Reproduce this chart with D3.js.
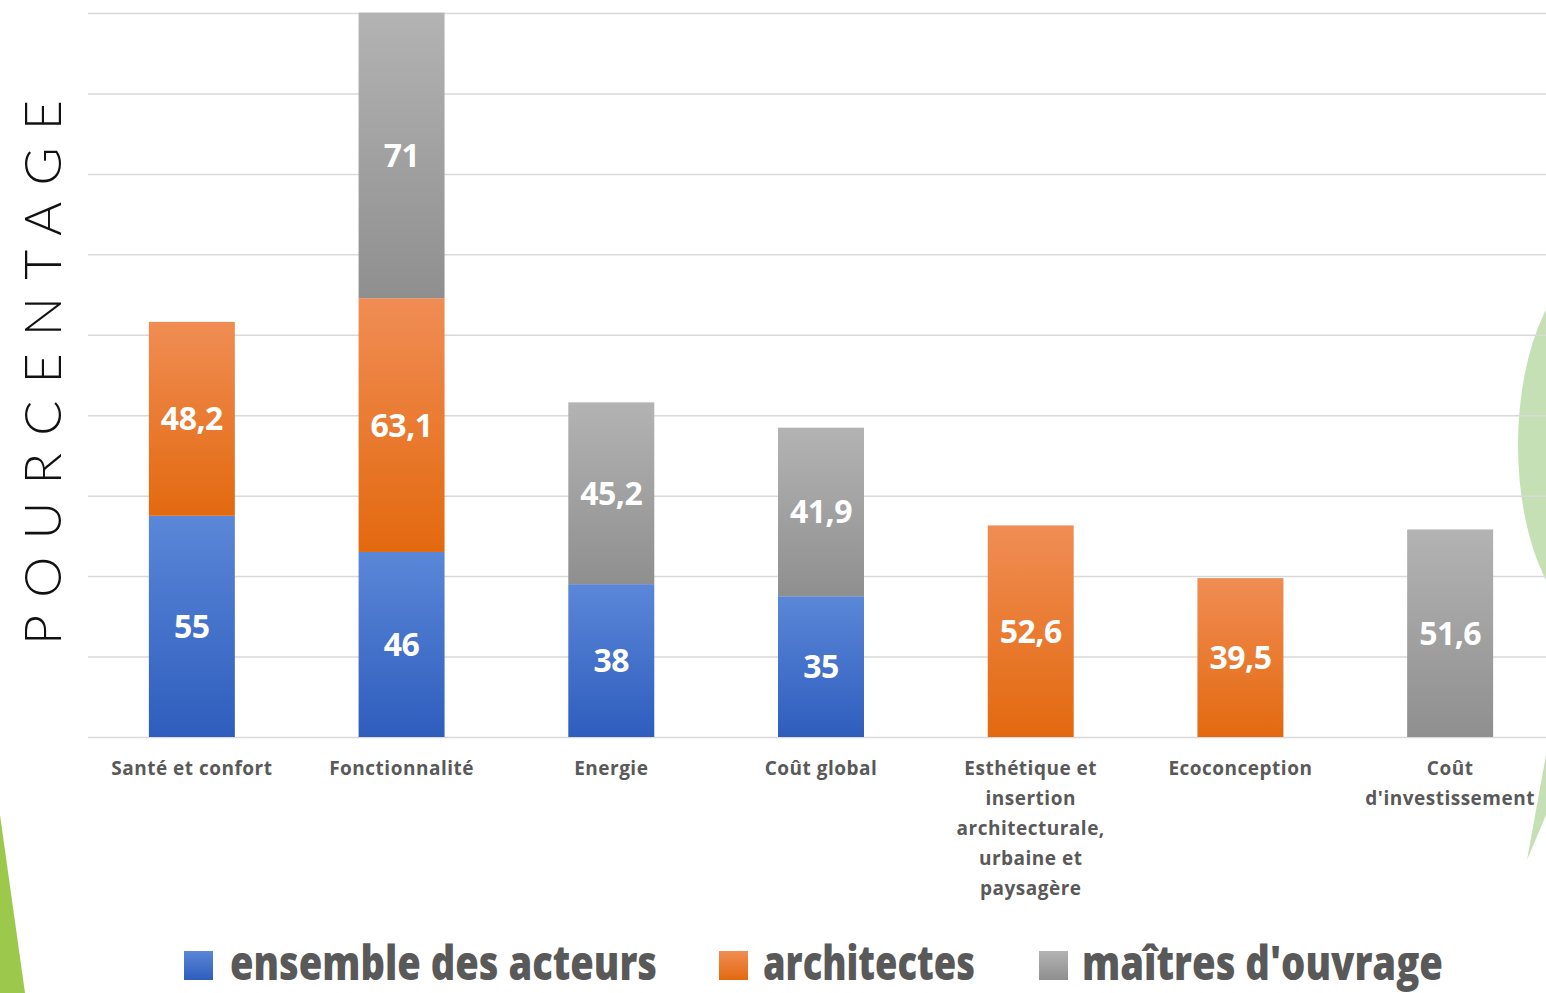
<!DOCTYPE html>
<html><head><meta charset="utf-8">
<script src="https://cdn.jsdelivr.net/npm/d3@7"></script>
<style>html,body{margin:0;padding:0;background:#fff;overflow:hidden}</style>
</head><body>
<svg id="chart" width="1546" height="993"></svg>
<script>
const categories = ["Santé et confort","Fonctionnalité","Energie","Coût global","Esthétique et insertion architecturale, urbaine et paysagère","Ecoconception","Coût d'investissement"];
const categoryLines = [["Santé et confort"],["Fonctionnalité"],["Energie"],["Coût global"],["Esthétique et","insertion","architecturale,","urbaine et","paysagère"],["Ecoconception"],["Coût","d'investissement"]];
const seriesNames = ["ensemble des acteurs","architectes","maîtres d'ouvrage"];
const ensembleValues = [55, 46, 38, 35, 0, 0, 0];
const architectesValues = [48.2, 63.1, 0, 0, 52.6, 39.5, 0];
const maitresValues = [0, 71, 45.2, 41.9, 0, 0, 51.6];
const yTicks = [0,20,40,60,80,100,120,140,160,180];
const yTitle = "POURCENTAGE";

const W = 1546, H = 993;
const svg = d3.select("#chart");
const defs = svg.append("defs");

// background decorations
svg.append("path").attr("d","M0,815 L25,993 L0,993 Z").attr("fill","#9cc84c");
svg.append("ellipse").attr("cx",1606).attr("cy",445).attr("rx",88).attr("ry",185).attr("fill","#c5e0b4");
svg.append("path").attr("d","M1546,755 L1527,860 L1546,815 Z").attr("fill","#c5e0b4");

const colors = [["#5b87d8","#2e5dbd"],["#f08d54","#e3690f"],["#b3b3b3","#8f8f8f"]];
colors.forEach((c,i)=>{
  const g = defs.append("linearGradient").attr("id","grad"+i).attr("x1",0).attr("y1",0).attr("x2",0).attr("y2",1);
  g.append("stop").attr("offset","0%").attr("stop-color",c[0]);
  g.append("stop").attr("offset","100%").attr("stop-color",c[1]);
});

const x = d3.scaleBand().domain(categories).range([87,1555]).paddingInner(0.59).paddingOuter(0.295);
const y = d3.scaleLinear().domain([0,180]).range([737,13]);

// gridlines
const grid = svg.append("g").attr("transform","translate(88,0)")
  .call(d3.axisLeft(y).tickValues(yTicks).tickSize(-(W-88)).tickFormat(""));
grid.select(".domain").remove();
grid.selectAll(".tick line").attr("stroke","#d9d9d9").attr("stroke-width",1.5);

const keys = ["s0","s1","s2"];
const table = categories.map((c,i)=>({cat:c, s0:ensembleValues[i], s1:architectesValues[i], s2:maitresValues[i]}));
const stack = d3.stack().keys(keys)(table);
const fmt = v => String(v).replace(".", ",");

stack.forEach((layer,li)=>{
  const g = svg.append("g");
  const segs = layer.filter(d=>d.data[keys[li]] > 0);
  g.selectAll("rect").data(segs).enter().append("rect")
    .attr("x",d=>x(d.data.cat))
    .attr("width",x.bandwidth())
    .attr("y",d=>y(d[1]))
    .attr("height",d=>y(d[0])-y(d[1]))
    .attr("fill","url(#grad"+li+")");
  g.selectAll("text").data(segs).enter().append("text")
    .attr("x",d=>x(d.data.cat)+x.bandwidth()/2)
    .attr("y",d=>(y(d[0])+y(d[1]))/2)
    .attr("dy","0.36em")
    .attr("text-anchor","middle")
    .attr("font-family","'Open Sans', sans-serif")
    .attr("font-weight",700)
    .attr("font-size",32)
    .attr("letter-spacing",-0.5)
    .attr("fill","#ffffff")
    .text(d=>fmt(d.data[keys[li]]));
});

// category labels
const xl = svg.append("g");
categories.forEach((c,i)=>{
  const t = xl.append("text")
    .attr("x",x(c)+x.bandwidth()/2)
    .attr("y",775)
    .attr("text-anchor","middle")
    .attr("font-family","'Open Sans', sans-serif")
    .attr("font-weight",700)
    .attr("font-size",19)
    .attr("letter-spacing",0.5)
    .attr("fill","#595959");
  categoryLines[i].forEach((ln,j)=>{
    t.append("tspan").attr("x",x(c)+x.bandwidth()/2).attr("y",775+j*30).text(ln);
  });
});

// y title
svg.append("text")
  .attr("transform","translate(61,645) rotate(-90)")
  .attr("font-family","Lato, sans-serif")
  .attr("font-weight",300)
  .attr("font-size",52)
  .attr("fill","#111")
  .attr("textLength",545)
  .attr("lengthAdjust","spacing")
  .text(yTitle);

// legend
const legendPos = [{sq:184, tx:230, w:427},{sq:719, tx:763, w:212},{sq:1039, tx:1082, w:361}];
seriesNames.forEach((n,i)=>{
  svg.append("rect").attr("x",legendPos[i].sq).attr("y",951).attr("width",29).attr("height",29)
    .attr("fill","url(#grad"+i+")");
  svg.append("text").attr("x",legendPos[i].tx).attr("y",980)
    .attr("font-family","'Open Sans', sans-serif")
    .attr("font-weight",800)
    .attr("font-size",48)
    .attr("fill","#595959")
    .attr("textLength",legendPos[i].w)
    .attr("lengthAdjust","spacingAndGlyphs")
    .text(n);
});
</script>
</body></html>
